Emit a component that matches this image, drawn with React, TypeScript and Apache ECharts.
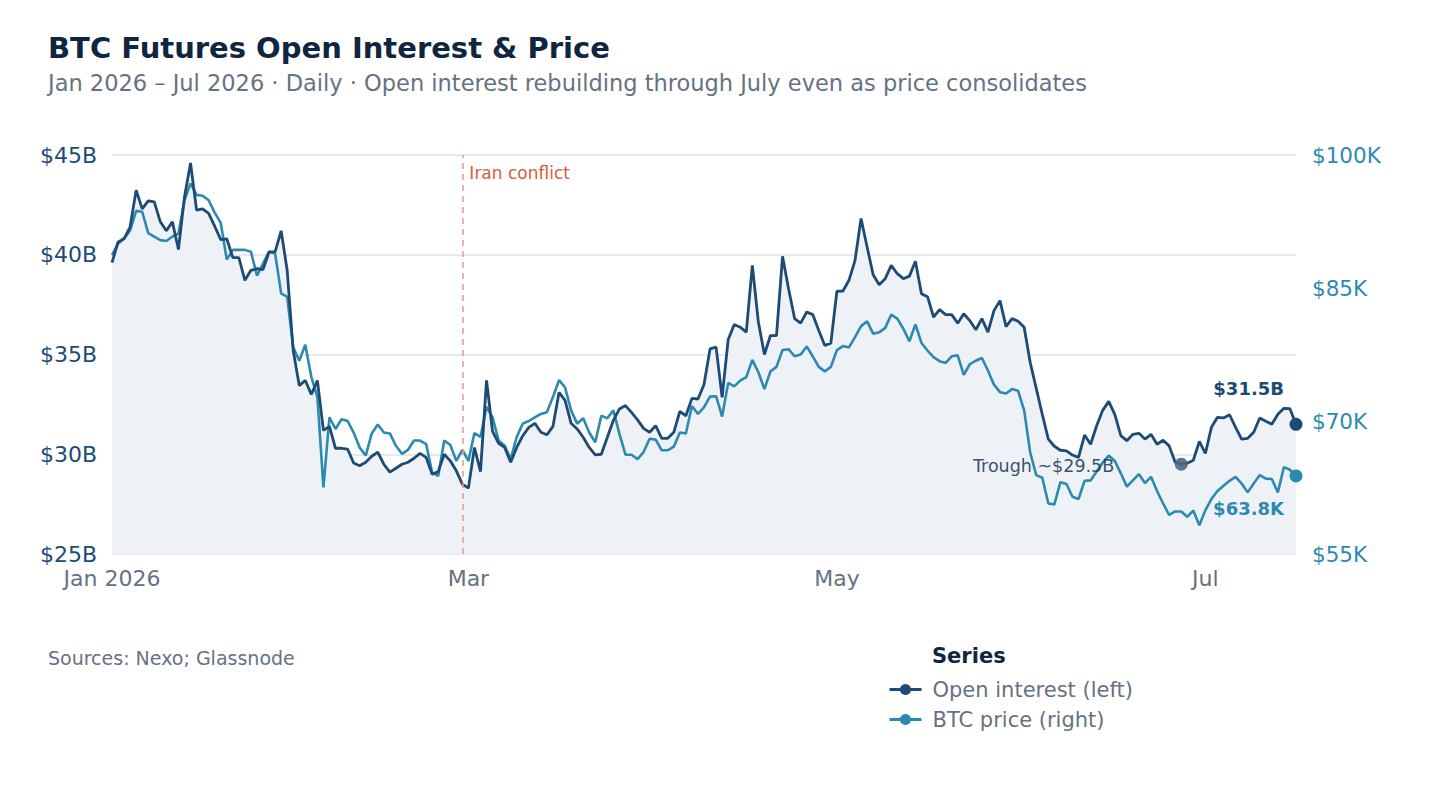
import React, { useEffect, useRef } from "react";
import * as echarts from "echarts";

// Daily series, 1 Jan 2026 → 16 Jul 2026
const START_DATE = "2026-01-01";

// Open interest, $B (left axis)
const openInterest = [
  39.6, 40.64, 40.8, 41.4, 43.24, 42.3, 42.7, 42.65, 41.65, 41.2,
  41.65, 40.26, 42.9, 44.6, 42.24, 42.3, 42.07, 41.43, 40.76, 40.8,
  39.86, 39.86, 38.72, 39.22, 39.3, 39.26, 40.14, 40.14, 41.2, 39.22,
  35.2, 33.44, 33.7, 33.0, 33.7, 31.2, 31.4, 30.3, 30.3, 30.26,
  29.56, 29.42, 29.6, 29.9, 30.1, 29.5, 29.1, 29.3, 29.5, 29.6,
  29.8, 30.04, 29.84, 29.0, 29.13, 30.0, 29.67, 29.17, 28.5, 28.3,
  30.34, 29.13, 33.7, 31.15, 30.55, 30.34, 29.6, 30.34, 30.93, 31.35,
  31.55, 31.1, 30.98, 31.4, 33.1, 32.7, 31.55, 31.27, 30.85, 30.34,
  29.97, 30.0, 30.85, 31.7, 32.27, 32.44, 32.1, 31.72, 31.3, 31.1,
  31.43, 30.8, 30.8, 31.1, 32.15, 31.93, 32.8, 32.77, 33.5, 35.28,
  35.37, 32.85, 35.74, 36.5, 36.37, 36.12, 39.47, 36.63, 35.0, 35.95,
  35.95, 39.92, 38.3, 36.8, 36.57, 37.13, 37.0, 36.2, 35.45, 35.57,
  38.17, 38.18, 38.72, 39.72, 41.82, 40.39, 39.0, 38.5, 38.8, 39.47,
  39.05, 38.8, 38.93, 39.67, 38.05, 37.9, 36.88, 37.25, 37.0, 37.0,
  36.57, 37.04, 36.7, 36.24, 36.8, 36.12, 37.2, 37.7, 36.4, 36.8,
  36.67, 36.37, 34.6, 33.3, 32.0, 30.76, 30.4, 30.2, 30.17, 29.96,
  29.84, 30.96, 30.5, 31.43, 32.2, 32.65, 32.0, 30.93, 30.68, 31.0,
  31.05, 30.76, 31.0, 30.5, 30.7, 30.42, 29.6, 29.5, 29.55, 29.7,
  30.64, 30.04, 31.35, 31.85, 31.82, 31.98, 31.35, 30.76, 30.8, 31.1,
  31.82, 31.65, 31.5, 32.0, 32.3, 32.28, 31.5,
];

// BTC price, $K (right axis)
const btcPrice = [
  88.7, 90.0, 90.6, 91.5, 93.7, 93.6, 91.2, 90.8, 90.4, 90.3,
  90.8, 91.15, 94.9, 96.8, 95.5, 95.4, 94.9, 93.5, 92.35, 88.2,
  89.3, 89.3, 89.3, 89.1, 86.4, 87.75, 89.1, 88.9, 84.4, 84.0,
  78.3, 76.8, 78.6, 74.95, 72.7, 62.5, 70.4, 69.1, 70.2, 70.0,
  68.7, 67.0, 66.1, 68.6, 69.6, 68.7, 68.6, 67.2, 66.3, 66.75,
  67.8, 67.8, 67.4, 64.2, 63.8, 67.8, 67.3, 65.5, 66.75, 65.5,
  68.65, 68.2, 71.6, 70.4, 67.8, 67.2, 65.7, 68.2, 69.7, 70.0,
  70.4, 70.8, 71.0, 72.7, 74.6, 73.8, 71.2, 69.7, 70.3, 68.7,
  67.6, 70.6, 70.3, 71.2, 68.55, 66.2, 66.2, 65.7, 66.5, 68.0,
  67.9, 66.7, 66.7, 67.1, 68.7, 68.6, 71.7, 70.8, 71.55, 72.75,
  72.8, 70.5, 74.3, 73.9, 74.55, 74.95, 76.9, 75.5, 73.6, 75.6,
  76.1, 78.0, 78.1, 77.3, 77.5, 78.4, 77.3, 76.1, 75.6, 76.1,
  78.0, 78.45, 78.3, 79.45, 80.7, 81.25, 79.85, 80.0, 80.5, 82.0,
  81.55, 80.4, 79.0, 80.9, 78.8, 77.95, 77.2, 76.75, 76.55, 77.3,
  77.4, 75.2, 76.4, 76.8, 77.1, 75.7, 74.1, 73.25, 73.1, 73.6,
  73.4, 71.2, 66.45, 63.9, 63.6, 60.7, 60.6, 63.1, 62.9, 61.45,
  61.2, 63.25, 63.3, 64.3, 65.3, 66.1, 65.5, 64.1, 62.6, 63.3,
  64.0, 63.0, 63.7, 62.1, 60.7, 59.4, 59.8, 59.8, 59.2, 59.9,
  58.25, 59.95, 61.2, 62.1, 62.7, 63.25, 63.7, 62.95, 61.95, 62.95,
  63.9, 63.5, 63.45, 61.95, 64.8, 64.5, 63.8,
];

const leftTicks = { min: 25, max: 45, step: 5 };
const rightTicks = { min: 55, max: 100, step: 15 };
const monthLabels = ["Jan 2026", "", "Mar", "", "May", "", "Jul"];

const EVENT_DATE = "2026-02-28";
const EVENT_LABEL = "Iran conflict";
const TROUGH_DATE = "2026-06-27";

const NAVY = "#1d4b76";
const TEAL = "#2b8ab0";
const INK = "#0f2540";
const GREY = "#657282";

function buildDates(start: string, n: number): string[] {
  const t0 = Date.parse(start + "T00:00:00Z");
  const out: string[] = [];
  for (let i = 0; i < n; i++) {
    out.push(new Date(t0 + i * 86400000).toISOString().slice(0, 10));
  }
  return out;
}

export default function App() {
  const ref = useRef<HTMLDivElement>(null);

  useEffect(() => {
    if (!ref.current) return;
    const chart = echarts.init(ref.current, undefined, { renderer: "svg" });
    const dates = buildDates(START_DATE, openInterest.length);
    const lastIdx = dates.length - 1;
    const troughIdx = dates.indexOf(TROUGH_DATE);

    const isLabelDay = (d: string) => {
      const m = Number(d.slice(5, 7));
      return d.slice(8, 10) === "01" && m % 2 === 1;
    };

    const font = "'DejaVu Sans', Inter, sans-serif";

    chart.setOption({
      animation: false,
      backgroundColor: "#ffffff",
      textStyle: { fontFamily: font },
      title: [
        {
          text: "BTC Futures Open Interest & Price",
          left: 48,
          top: 33,
          padding: 0,
          textStyle: { fontFamily: font, fontSize: 29, fontWeight: 700, color: INK },
        },
        {
          text: "Jan 2026 – Jul 2026 · Daily · Open interest rebuilding through July even as price consolidates",
          left: 48,
          top: 71,
          padding: 0,
          textStyle: { fontFamily: font, fontSize: 22.5, fontWeight: 400, color: GREY },
        },
      ],
      grid: { left: 112, right: 144, top: 155, bottom: 246 },
      legend: {
        data: ["Open interest (left)", "BTC price (right)"],
        orient: "vertical",
        left: 888,
        top: 679,
        padding: 0,
        itemWidth: 32,
        itemHeight: 14,
        itemGap: 9,
        selectedMode: false,
        lineStyle: { width: 3 },
        textStyle: { fontFamily: font, fontSize: 21, color: GREY, padding: [0, 0, 0, 6] },
      },
      graphic: [
        {
          type: "text",
          left: 932,
          top: 645,
          style: { text: "Series", font: `700 21px ${font}`, fill: INK },
        },
        {
          type: "text",
          left: 48,
          top: 648,
          style: { text: "Sources: Nexo; Glassnode", font: `400 19px ${font}`, fill: GREY },
        },
      ],
      xAxis: {
        type: "category",
        data: dates,
        boundaryGap: false,
        axisLine: { show: false },
        axisTick: { show: false },
        splitLine: { show: false },
        axisLabel: {
          interval: (_i: number, v: string) => isLabelDay(v),
          formatter: (v: string) => monthLabels[Number(v.slice(5, 7)) - 1] || "",
          fontSize: 22,
          color: GREY,
          margin: 13,
          fontFamily: font,
        },
      },
      yAxis: [
        {
          type: "value",
          min: leftTicks.min,
          max: leftTicks.max,
          interval: leftTicks.step,
          axisLine: { show: false },
          axisTick: { show: false },
          splitLine: { lineStyle: { color: "#dde2e8", width: 1.5 } },
          axisLabel: {
            formatter: (v: number) => `$${v}B`,
            fontSize: 22,
            color: NAVY,
            margin: 15,
            fontFamily: font,
          },
        },
        {
          type: "value",
          min: rightTicks.min,
          max: rightTicks.max,
          interval: rightTicks.step,
          axisLine: { show: false },
          axisTick: { show: false },
          splitLine: { show: false },
          axisLabel: {
            formatter: (v: number) => `$${v}K`,
            fontSize: 21.5,
            color: TEAL,
            margin: 16,
            fontFamily: font,
          },
        },
      ],
      series: [
        {
          // shaded band under open interest
          name: "oi-area",
          type: "line",
          data: openInterest,
          yAxisIndex: 0,
          showSymbol: false,
          symbol: "none",
          lineStyle: { width: 0, opacity: 0 },
          areaStyle: { color: "#eef2f6", opacity: 1, origin: "start" },
          silent: true,
          z: 1,
        },
        {
          name: "BTC price (right)",
          type: "line",
          data: btcPrice,
          yAxisIndex: 1,
          symbol: "circle",
          symbolSize: 12,
          showSymbol: false,
          itemStyle: { color: TEAL },
          lineStyle: { color: TEAL, width: 2.6 },
          z: 2,
          markPoint: {
            silent: true,
            data: [
              {
                coord: [dates[lastIdx], btcPrice[lastIdx]],
                symbol: "circle",
                symbolSize: 13,
                itemStyle: { color: TEAL },
                label: {
                  show: true,
                  formatter: `$${btcPrice[lastIdx].toFixed(1)}K`,
                  position: "inside",
                  align: "right",
                  offset: [-12, 33],
                  fontSize: 18,
                  fontWeight: 700,
                  color: TEAL,
                  fontFamily: font,
                },
              },
            ],
          },
        },
        {
          name: "Open interest (left)",
          type: "line",
          data: openInterest,
          yAxisIndex: 0,
          symbol: "circle",
          symbolSize: 12,
          showSymbol: false,
          itemStyle: { color: NAVY },
          lineStyle: { color: NAVY, width: 2.8 },
          z: 3,
          markLine: {
            silent: true,
            symbol: "none",
            label: { show: false },
            lineStyle: { color: "#e89a86", type: [6, 5], width: 1.5 },
            data: [{ xAxis: EVENT_DATE }],
          },
          markPoint: {
            silent: true,
            data: [
              {
                coord: [EVENT_DATE, leftTicks.max],
                symbol: "circle",
                symbolSize: 0,
                label: {
                  show: true,
                  formatter: EVENT_LABEL,
                  position: "inside",
                  align: "left",
                  offset: [7, 18],
                  fontSize: 17,
                  color: "#d95a3a",
                  fontFamily: font,
                },
              },
              {
                coord: [dates[troughIdx], openInterest[troughIdx]],
                symbol: "circle",
                symbolSize: 13,
                itemStyle: { color: "#4d6585", opacity: 0.9 },
                label: {
                  show: true,
                  formatter: `Trough ~$${openInterest[troughIdx].toFixed(1)}B`,
                  position: "inside",
                  align: "right",
                  offset: [-67, 2],
                  fontSize: 17.5,
                  color: "#1f3b5c",
                  fontFamily: font,
                },
              },
              {
                coord: [dates[lastIdx], openInterest[lastIdx]],
                symbol: "circle",
                symbolSize: 13,
                itemStyle: { color: NAVY },
                label: {
                  show: true,
                  formatter: `$${openInterest[lastIdx].toFixed(1)}B`,
                  position: "inside",
                  align: "right",
                  offset: [-12, -36],
                  fontSize: 18,
                  fontWeight: 700,
                  color: NAVY,
                  fontFamily: font,
                },
              },
            ],
          },
        },
      ],
    });

    return () => chart.dispose();
  }, []);

  return (
    <div
      ref={ref}
      style={{ position: "absolute", left: 0, top: 0, width: 1440, height: 800 }}
    />
  );
}
